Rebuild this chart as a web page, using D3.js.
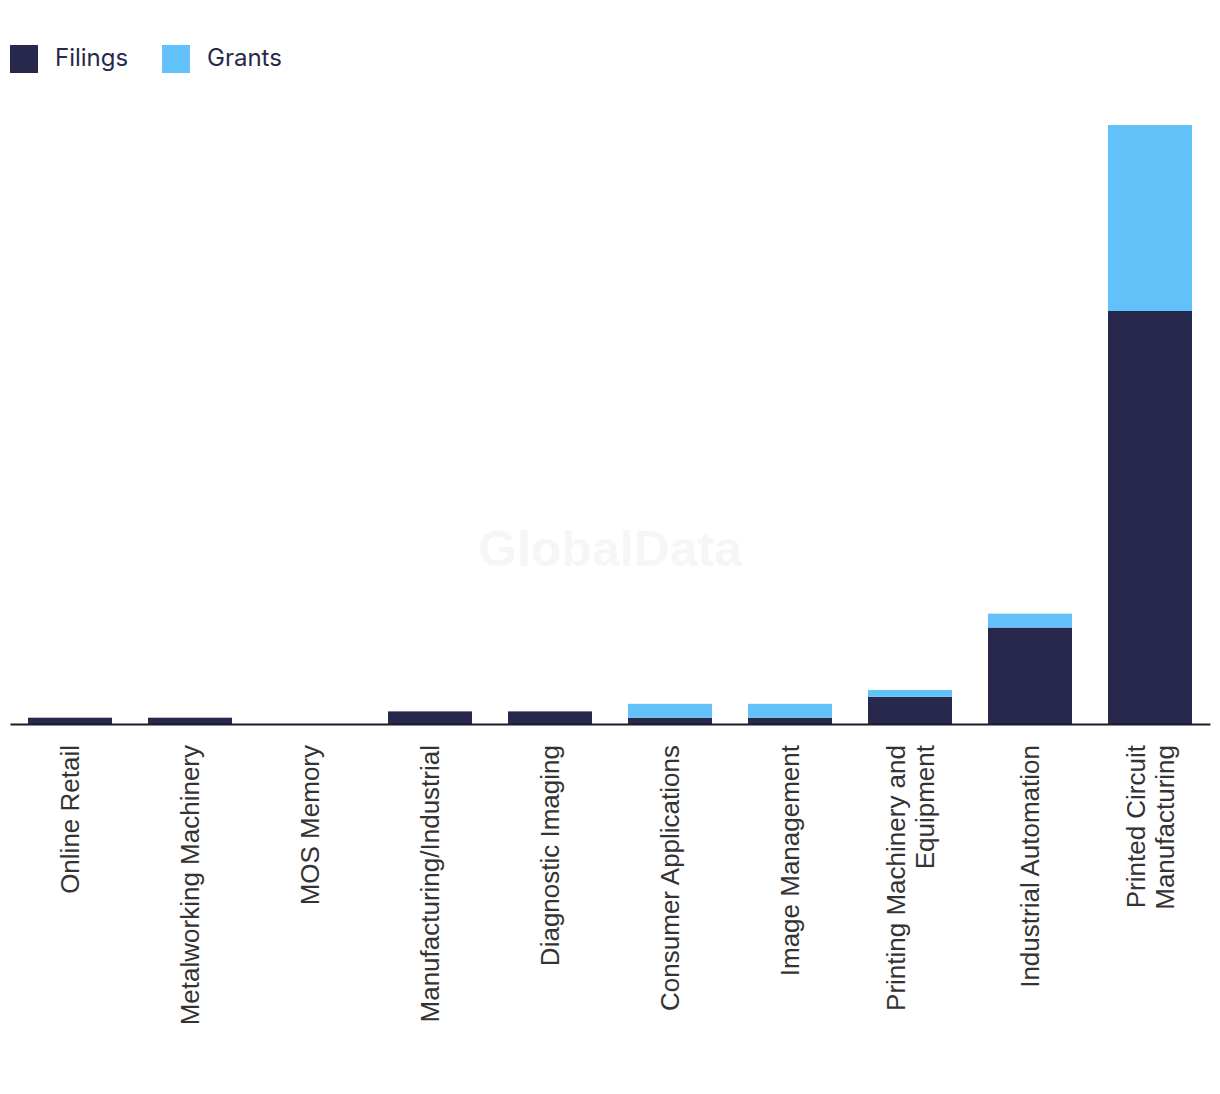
<!DOCTYPE html>
<html>
<head>
<meta charset="utf-8">
<script src="https://cdn.jsdelivr.net/npm/d3@7"></script>
<style>
  html, body { margin: 0; padding: 0; background: #ffffff; }
  svg { display: block; }
</style>
</head>
<body>
<div id="chart"></div>
<script>
const categories = [
  "Online Retail",
  "Metalworking Machinery",
  "MOS Memory",
  "Manufacturing/Industrial",
  "Diagnostic Imaging",
  "Consumer Applications",
  "Image Management",
  "Printing Machinery and Equipment",
  "Industrial Automation",
  "Printed Circuit Manufacturing"
];
const labelLines = [
  ["Online Retail"],
  ["Metalworking Machinery"],
  ["MOS Memory"],
  ["Manufacturing/Industrial"],
  ["Diagnostic Imaging"],
  ["Consumer Applications"],
  ["Image Management"],
  ["Printing Machinery and", "Equipment"],
  ["Industrial Automation"],
  ["Printed Circuit", "Manufacturing"]
];
const filings = [1, 1, 0, 2, 2, 1, 1, 4.3, 15.3, 65.5];
const grants  = [0, 0, 0, 0, 0, 2.2, 2.2, 1.1, 2.2, 29.5];
const seriesNames = ["Filings", "Grants"];
const colors = ["#27284b", "#63c1f9"];

const W = 1220, H = 1094;
const svg = d3.select("#chart").append("svg")
  .attr("width", W).attr("height", H)
  .style("font-family", "'Liberation Sans', Arial, sans-serif");

// watermark
svg.append("text")
  .attr("x", 610).attr("y", 566)
  .attr("text-anchor", "middle")
  .attr("font-size", 50).attr("font-weight", "bold")
  .attr("fill", "#f6f6f6")
  .text("GlobalData");

const x = d3.scaleBand().domain(categories).range([10, 1210]).paddingInner(0.3).paddingOuter(0.15);
const y = d3.scaleLinear().domain([0, 95]).range([724, 125]);

const data = categories.map((c, i) => ({ cat: c, Filings: filings[i], Grants: grants[i] }));
const stacked = d3.stack().keys(seriesNames)(data);

svg.append("g").selectAll("g")
  .data(stacked).join("g")
  .attr("fill", (d, i) => colors[i])
  .selectAll("rect")
  .data(d => d).join("rect")
  .attr("x", d => x(d.data.cat))
  .attr("width", x.bandwidth())
  .attr("y", d => y(d[1]))
  .attr("height", d => Math.max(0, y(d[0]) - y(d[1])));

// x axis
const xAxis = d3.axisBottom(x).tickSize(0).tickFormat("");
const gx = svg.append("g").attr("transform", "translate(0,724)").call(xAxis);
gx.select(".domain").attr("stroke", "#1b1b2f").attr("stroke-width", 2);

// labels
const lineGap = 29;
categories.forEach((c, i) => {
  const lines = labelLines[i];
  const cx = x(c) + x.bandwidth() / 2;
  const n = lines.length;
  lines.forEach((ln, j) => {
    const off = (j - (n - 1) / 2) * lineGap;
    svg.append("text")
      .attr("transform", `translate(${cx + off + 9},745) rotate(-90)`)
      .attr("text-anchor", "end")
      .attr("font-size", 26)
      .attr("fill", "#333333")
      .text(ln);
  });
});

// legend
const legend = svg.append("g").style("font-family", "Inter, 'Noto Sans', sans-serif");
const legX = [10, 162];
seriesNames.forEach((s, i) => {
  legend.append("rect").attr("x", legX[i]).attr("y", 45).attr("width", 28).attr("height", 28).attr("fill", colors[i]);
  legend.append("text").attr("x", legX[i] + 45).attr("y", 66)
    .attr("font-size", 24).attr("fill", "#27284b").text(s);
});
</script>
</body>
</html>
